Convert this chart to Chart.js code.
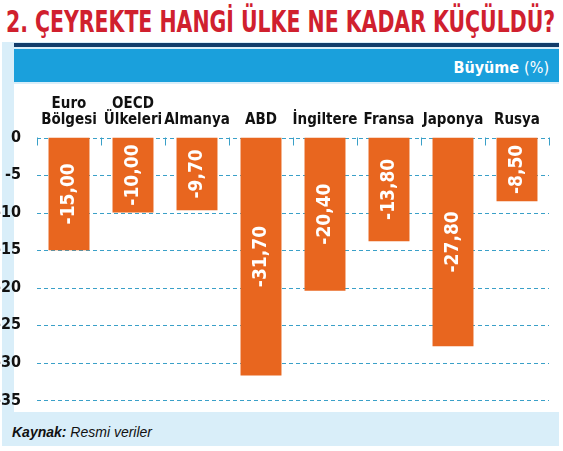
<!DOCTYPE html>
<html><head><meta charset="utf-8">
<script src="https://cdn.jsdelivr.net/npm/chart.js@4/dist/chart.umd.min.js"></script>
<style>
body{margin:0;width:563px;height:451px;position:relative;background:#fff;font-family:"DejaVu Sans Condensed",sans-serif;overflow:hidden}
#title{position:absolute;left:6px;top:3px;font:bold 31px "DejaVu Sans Condensed",sans-serif;color:#d0202e;white-space:nowrap;transform-origin:left top;display:inline-block}
#frame{position:absolute;left:2px;top:42px;width:557px;height:404px;background:#d9eef9}
#topline{position:absolute;left:14px;top:43px;width:545px;height:4px;background:#123d6b}
#head{position:absolute;left:14px;top:49px;width:545px;height:33px;background:#1aa0dc;color:#fff;font:bold 16px "DejaVu Sans Condensed",sans-serif;text-align:right;box-sizing:border-box;padding:9px 10px 0 0}
#head i{font-weight:normal;font-style:normal}
#plot{position:absolute;left:14px;top:84px;width:545px;height:328px;background:#fff}
#wrap{position:absolute;left:0;top:84px;width:563px;height:334px}
#foot{position:absolute;left:12px;top:424px;font:italic 14px "Liberation Sans",sans-serif;color:#111}
</style></head><body>
<div id="frame"></div>
<div id="title">2. ÇEYREKTE HANGİ ÜLKE NE KADAR KÜÇÜLDÜ?</div>
<div id="topline"></div>
<div id="head">Büyüme <i>(%)</i></div>
<div id="plot"></div>
<div id="wrap"><canvas id="c"></canvas></div>
<div id="foot"><b>Kaynak:</b> Resmi veriler</div>
<script>
const categories = [['Euro','Bölgesi'],['OECD','Ülkeleri'],'Almanya','ABD','İngiltere','Fransa','Japonya','Rusya'];
const growth = [-15.00,-10.00,-9.70,-31.70,-20.40,-13.80,-27.80,-8.50];
const yTicks = [0,-5,-10,-15,-20,-25,-30,-35];

// squeeze title to the reference width
const t = document.getElementById('title');
t.style.transform = 'scaleX(' + (549 / t.scrollWidth) + ')';

const barLabels = {
  id:'barLabels',
  beforeDatasetsDraw(chart){
    const ctx = chart.ctx, y = chart.scales.y;
    ctx.save();
    ctx.strokeStyle='#3aa0c8';ctx.lineWidth=1;ctx.setLineDash([4,3]);
    yTicks.forEach(v=>{
      const py = Math.round(y.getPixelForValue(v))+0.5;
      ctx.beginPath();ctx.moveTo(chart.chartArea.left,py);ctx.lineTo(chart.chartArea.right,py);ctx.stroke();
    });
    ctx.setLineDash([]);
    const x = chart.scales.x, y0 = y.getPixelForValue(0);
    for(let i=0;i<=categories.length;i++){
      const px = Math.round(x.left + (x.right-x.left)*i/categories.length)+0.5;
      ctx.beginPath();ctx.moveTo(px,y0);ctx.lineTo(px,y0+8);ctx.stroke();
    }
    ctx.restore();
  },
  afterDatasetsDraw(chart){
    const ctx = chart.ctx;
    const meta = chart.getDatasetMeta(0);
    ctx.save();
    ctx.fillStyle='#fff';
    ctx.font='bold 19px "DejaVu Sans Condensed", sans-serif';
    ctx.textAlign='center';ctx.textBaseline='middle';
    meta.data.forEach((b,i)=>{
      const v = growth[i].toFixed(2).replace('.',',');
      ctx.save();
      ctx.translate(b.x, chart.scales.y.getPixelForValue(growth[i]/2));
      ctx.rotate(-Math.PI/2);
      ctx.fillText(v,0,0);
      ctx.restore();
    });
    ctx.restore();
  }
};

new Chart(document.getElementById('c'),{
  type:'bar',
  data:{labels:categories,datasets:[{data:growth,backgroundColor:'#e8661f',barPercentage:0.64,categoryPercentage:1}]},
  options:{
    responsive:true,maintainAspectRatio:false,animation:false,
    layout:{padding:{left:0,right:14,top:10,bottom:0}},
    plugins:{legend:{display:false},tooltip:{enabled:false}},
    scales:{
      x:{position:'top',grid:{display:false},border:{display:false},
        ticks:{color:'#111',font:{family:'"DejaVu Sans Condensed", sans-serif',size:15,weight:'bold',lineHeight:1.05},maxRotation:0,autoSkip:false,padding:2}},
      y:{min:-35,max:0,afterFit(s){s.width=37;},afterBuildTicks(s){s.ticks=yTicks.map(v=>({value:v}));},
        grid:{display:false},
        border:{display:false},
        ticks:{color:'#111',padding:8,font:{family:'"DejaVu Sans Condensed", sans-serif',size:16,weight:'bold'}}}
    }
  },
  plugins:[barLabels]
});
</script>
</body></html>
